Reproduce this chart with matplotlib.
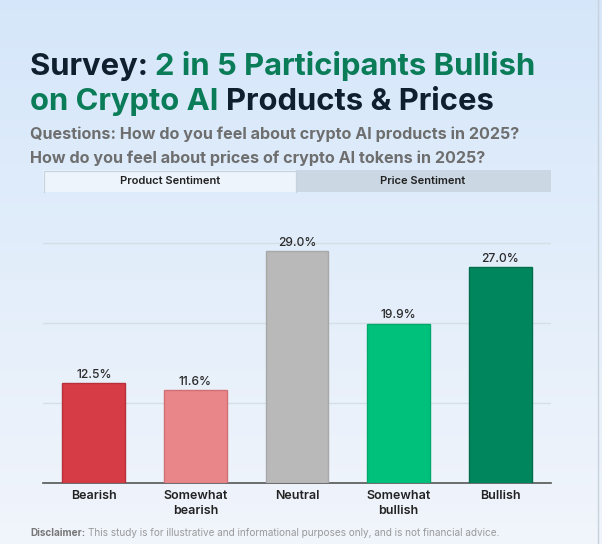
import numpy as np
import matplotlib
matplotlib.use("Agg")
import matplotlib.pyplot as plt
from matplotlib.patches import Rectangle

plt.rcParams["font.family"] = ["Inter", "DejaVu Sans"]

# data
categories = ["Bearish", "Somewhat\nbearish", "Neutral", "Somewhat\nbullish", "Bullish"]
shares = [12.5, 11.6, 29.0, 19.9, 27.0]
bar_colors = ["#d63c45", "#e8868a", "#b9b9b9", "#00c17c", "#00865c"]
edge_colors = ["#b8303a", "#d07075", "#a8a8a8", "#00a86b", "#006e4b"]
title_line1 = [("Survey: ", "#0f1f2e"), ("2 in 5 Participants Bullish", "#0a7c58")]
title_line2 = [("on Crypto AI ", "#0a7c58"), ("Products & Prices", "#0f1f2e")]
subtitle = ["Questions: How do you feel about crypto AI products in 2025?",
            "How do you feel about prices of crypto AI tokens in 2025?"]
tabs = ["Product Sentiment", "Price Sentiment"]

W, H = 602, 544
fig = plt.figure(figsize=(W / 100, H / 100), dpi=100)

# background gradient
bg = fig.add_axes([0, 0, 1, 1], zorder=-10)
grad = np.linspace(0, 1, 256).reshape(-1, 1)
top = np.array([0.835, 0.905, 0.980])
bot = np.array([0.945, 0.960, 0.985])
img = top[None, None, :] * (1 - grad[:, :, None]) + bot[None, None, :] * grad[:, :, None]
bg.imshow(img, aspect="auto", extent=[0, W, H, 0])
bg.set_xlim(0, W)
bg.set_ylim(H, 0)
bg.axis("off")
bg.plot([598, 598], [0, H], color="#c8d2dc", lw=1)

renderer = fig.canvas.get_renderer()


def rich_line(pieces, x, y, size):
    for txt, col in pieces:
        t = bg.text(x, y, txt, color=col, fontsize=size, fontweight="bold",
                    va="baseline", ha="left")
        x += t.get_window_extent(renderer).width


rich_line(title_line1, 30, 75, 22.3)
rich_line(title_line2, 30, 110, 22.3)
bg.text(30, 139, subtitle[0], color="#6e6e6e", fontsize=11.6, fontweight="bold", va="baseline")
bg.text(30, 163, subtitle[1], color="#6e6e6e", fontsize=11.6, fontweight="bold", va="baseline")

# tabs (active tab: open at the bottom)
bg.add_patch(Rectangle((43, 170), 253, 22, facecolor="#edf4fc", edgecolor="none"))
bg.plot([43.5, 43.5, 296, 296], [192, 170.5, 170.5, 192], color="#c6d4e1", lw=0.9)
bg.add_patch(Rectangle((296, 170), 255, 22, facecolor="#cbd8e3", edgecolor="none"))
bg.text(170, 181, tabs[0], ha="center", va="center", fontsize=8, fontweight="semibold", color="#222222")
bg.text(423, 181, tabs[1], ha="center", va="center", fontsize=8, fontweight="semibold", color="#222222")

# disclaimer
t = bg.text(30, 536, "Disclaimer:", color="#777777", fontsize=7.2, fontweight="bold", va="baseline")
bb = t.get_window_extent(renderer)
bg.text(30 + bb.width + 3, 536, "This study is for illustrative and informational purposes only, and is not financial advice.",
        color="#9a9a9a", fontsize=7.2, va="baseline")

# chart
ax = fig.add_axes([43 / W, 1 - 483 / H, 508 / W, 244 / H])
ax.patch.set_alpha(0)
x = np.arange(len(categories))
ax.bar(x, shares, width=0.62, color=bar_colors, edgecolor=edge_colors, linewidth=1, zorder=3)
for xi, v in zip(x, shares):
    ax.text(xi, v + 0.3, f"{v:.1f}%", ha="center", va="bottom", fontsize=8.7,
            fontweight="medium", color="#2a2a2a", zorder=4)
ax.set_xlim(-0.5, 4.5)
ax.set_ylim(0, 30.5)
ax.set_yticks([10, 20, 30])
ax.yaxis.grid(True, color="#d5dde6", lw=1, zorder=0)
ax.tick_params(axis="y", left=False, labelleft=False)
ax.set_xticks(x)
ax.set_xticklabels(categories, fontsize=9, fontweight="semibold", color="#222222", linespacing=1.3)
ax.tick_params(axis="x", length=0, pad=5)
for s in ["top", "right", "left"]:
    ax.spines[s].set_visible(False)
ax.spines["bottom"].set_color("#555555")
ax.spines["bottom"].set_linewidth(1.2)

fig.savefig("out.png", dpi=100)
